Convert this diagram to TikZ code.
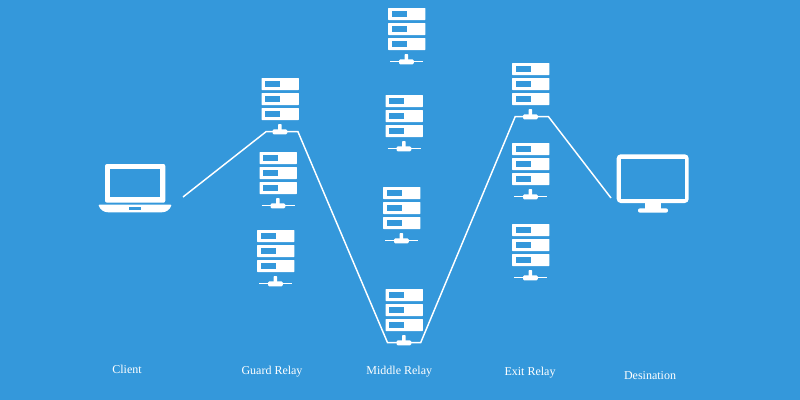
\documentclass[tikz,border=0pt]{standalone}
\usepackage{fontspec}
\setmainfont{Liberation Serif}
\definecolor{bg}{HTML}{3498DB}
\tikzset{
  px/.style={x=0.75pt,y=-0.75pt},
  wire/.style={draw=white,line width=1.1pt,line join=miter},
  lbl/.style={text=white,font=\fontsize{9}{11}\selectfont,inner sep=0pt},
  server/.pic={
    \foreach \t in {0,15,30}{
      \fill[white,rounded corners=0.4pt] (0,\t) rectangle (37.4,\t+12);
      \fill[bg] (3.6,\t+3.3) rectangle (18.6,\t+8.6);
    }
    \fill[white,rounded corners=0.5pt] (16.6,46) rectangle (20,54);
    \fill[white,rounded corners=1pt] (11,51.4) rectangle (25.8,56.4);
    \coordinate (-w) at (2,53.6);
    \coordinate (-e) at (35.2,53.6);
  }
}
\begin{document}
\begin{tikzpicture}[px]
\useasboundingbox (0,0) rectangle (800,400);
\fill[bg] (0,0) rectangle (800,400);
% servers
\pic (g1) at (261.5,78) {server};
\pic (g2) at (259.5,152) {server};
\pic (g3) at (257,230) {server};
\pic (m1) at (388,8) {server};
\pic (m2) at (385.5,95) {server};
\pic (m3) at (383,187) {server};
\pic (m4) at (385.5,289) {server};
\pic (e1) at (512,63) {server};
\pic (e2) at (512,143) {server};
\pic (e3) at (512,224) {server};
% bars on idle servers
\foreach \n in {g2,g3,m1,m2,m3,e2,e3}{
  \draw[white,line width=0.95pt] (\n-w) -- (\n-e);
}
% laptop
\fill[white,rounded corners=1.5pt] (105,164) rectangle (165.3,202.7);
\fill[bg] (110.3,169.3) rectangle (160,196.7);
\fill[white,rounded corners=0.5pt] (98.7,204.7) -- (171.3,204.7) -- (171.3,205.5)
  .. controls (169.5,210) and (166,212.3) .. (161,212.3) -- (109,212.3)
  .. controls (104,212.3) and (100.5,210) .. (98.7,205.5) -- cycle;
\fill[bg] (129.3,207.3) rectangle (140.7,209.7);
\coordinate (laptop) at (183,197);
% monitor
\fill[white,rounded corners=3pt] (616.7,154.3) rectangle (688.7,203);
\fill[bg] (620.7,159) rectangle (684.7,199);
\fill[white] (644.7,203) rectangle (661.3,209);
\fill[white,rounded corners=1.5pt] (638,208.3) rectangle (668,212.7);
\coordinate (monitor) at (611,198);
% connector
\draw[wire] (laptop) -- ([xshift=2pt]g1-w) -- ([xshift=0.9pt]g1-e)
  -- (m4-w) -- (m4-e)
  -- ([xshift=0.9pt]e1-w) -- ([xshift=0.9pt]e1-e) -- (monitor);
% labels
\node[lbl] (lc) at (127,369.7) {Client};
\node[lbl] (lg) at (272,372) {Guard Relay};
\node[lbl] (lm) at (399.3,372) {Middle Relay};
\node[lbl] (lx) at (530,373) {Exit Relay};
\node[lbl] (ld) at (650,375.7) {Desination};
\end{tikzpicture}
\end{document}
